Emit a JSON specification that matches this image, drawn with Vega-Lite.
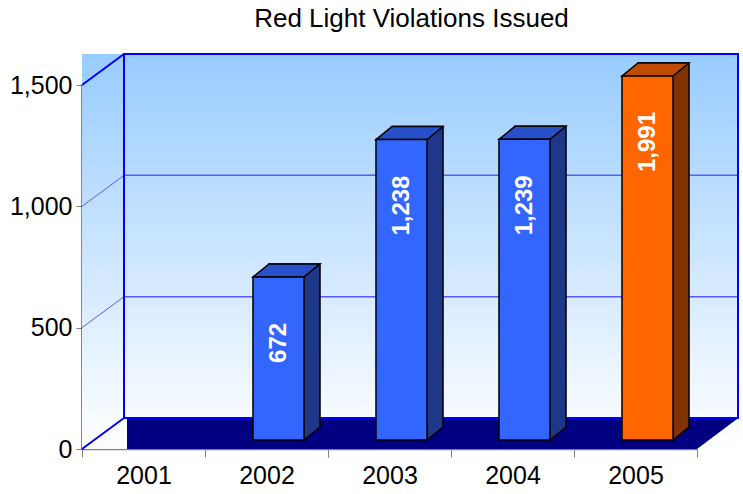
{
  "$schema": "https://vega.github.io/schema/vega-lite/v6.json",
  "width": 615,
  "height": 364,
  "autosize": {"type": "none"},
  "padding": {"left": 82, "top": 85, "right": 46, "bottom": 45},
  "background": "#ffffff",
  "config": {
    "view": {"stroke": null},
    "axis": {
      "labelFont": "Liberation Sans",
      "labelFontSize": 25,
      "labelColor": "#000000",
      "tickColor": "#808080",
      "domainColor": "#808080",
      "zindex": 1
    }
  },
  "data": {
    "values": [
      {"year": "2002", "value": 672},
      {"year": "2003", "value": 1238},
      {"year": "2004", "value": 1239},
      {"year": "2005", "value": 1991}
    ]
  },
  "resolve": {"scale": {"x": "independent"}},
  "layer": [
    {
      "data": {"values": [{}]},
      "mark": {
        "type": "rect",
        "x2Offset": 42,
        "y2Offset": -31,
        "fill": {
          "gradient": "linear",
          "x1": 0, "y1": 0, "x2": 0, "y2": 1,
          "stops": [
            {"offset": 0, "color": "#99CCFF"},
            {"offset": 1, "color": "#FFFFFF"}
          ]
        }
      },
      "encoding": {
        "x": {"datum": 0, "type": "quantitative", "scale": {"domain": [0, 1]}, "axis": null},
        "x2": {"datum": 1},
        "y": {"datum": 0, "type": "quantitative"},
        "y2": {"datum": 1500}
      }
    },
    {
      "data": {"values": [{"title": "Red Light Violations Issued"}]},
      "mark": {"type": "text", "align": "center", "baseline": "alphabetic", "font": "Liberation Sans", "fontSize": 26, "fill": "#000000", "xOffset": 22, "yOffset": -58},
      "encoding": {
        "x": {"datum": 0.5, "type": "quantitative", "scale": {"domain": [0, 1]}, "axis": null},
        "y": {"datum": 1500, "type": "quantitative"},
        "text": {"field": "title"}
      }
    },
    {
      "data": {"values": [{"v": 500}, {"v": 1000}]},
      "layer": [
        {
          "mark": {"type": "rule", "stroke": "#5A5AFF", "strokeWidth": 1, "x2Offset": 42, "y2Offset": -31},
          "encoding": {
            "x": {"datum": 0, "type": "quantitative", "scale": {"domain": [0, 1]}, "axis": null},
            "x2": {"datum": 0},
            "y": {"field": "v", "type": "quantitative"},
            "y2": {"field": "v"}
          }
        },
        {
          "mark": {"type": "rule", "stroke": "#5A5AFF", "strokeWidth": 1.5, "xOffset": 42, "x2Offset": 41, "yOffset": -31, "y2Offset": -31},
          "encoding": {
            "x": {"datum": 0, "type": "quantitative", "scale": {"domain": [0, 1]}, "axis": null},
            "x2": {"datum": 1},
            "y": {"field": "v", "type": "quantitative"},
            "y2": {"field": "v"}
          }
        }
      ]
    },
    {
      "data": {"values": [{}]},
      "mark": {"type": "rect", "fill": "#000080", "xOffset": 45, "yOffset": -31},
      "encoding": {
        "x": {"datum": 0, "type": "quantitative", "scale": {"domain": [0, 1]}, "axis": null},
        "x2": {"datum": 1},
        "y": {"datum": 0, "type": "quantitative"},
        "y2": {"datum": 0}
      }
    },
    {
      "data": {"values": [{}]},
      "mark": {
        "type": "point",
        "shape": "M-1,-0.75L1,-0.75L-1,0.75Z",
        "size": 1681,
        "filled": true,
        "fill": "#000080",
        "strokeWidth": 0,
        "opacity": 1,
        "xOffset": 20.5,
        "yOffset": -15.5
      },
      "encoding": {
        "x": {"datum": 1, "type": "quantitative", "scale": {"domain": [0, 1]}, "axis": null},
        "y": {"datum": 0, "type": "quantitative"}
      }
    },
    {
      "data": {"values": [{}]},
      "mark": {"type": "rect", "fillOpacity": 0, "stroke": "#0000FF", "strokeWidth": 2, "xOffset": 42, "x2Offset": 41, "yOffset": -31, "y2Offset": -31},
      "encoding": {
        "x": {"datum": 0, "type": "quantitative", "scale": {"domain": [0, 1]}, "axis": null},
        "x2": {"datum": 1},
        "y": {"datum": 0, "type": "quantitative"},
        "y2": {"datum": 1500}
      }
    },
    {
      "data": {"values": [{"v": 0}, {"v": 1500}]},
      "mark": {"type": "rule", "stroke": "#0000FF", "strokeWidth": 2, "x2Offset": 42, "y2Offset": -31},
      "encoding": {
        "x": {"datum": 0, "type": "quantitative", "scale": {"domain": [0, 1]}, "axis": null},
        "x2": {"datum": 0},
        "y": {"field": "v", "type": "quantitative"},
        "y2": {"field": "v"}
      }
    },
    {
      "mark": {"type": "rule", "opacity": 0},
      "encoding": {
        "x": {
          "field": "year", "type": "ordinal",
          "scale": {"domain": ["2001", "2002", "2003", "2004", "2005"], "paddingInner": 0, "paddingOuter": 0},
          "axis": {"title": null, "labelAngle": 0, "tickBand": "extent", "tickSize": 8, "labelPadding": 6, "domainWidth": 1.5}
        },
        "y": {
          "field": "value", "type": "quantitative",
          "scale": {"domain": [0, 1500], "nice": false, "clamp": true},
          "axis": {"title": null, "values": [0, 500, 1000, 1500], "labelExpr": "format(datum.value, ',')", "grid": false, "tickSize": 6, "labelPadding": 4, "domainColor": "#000080", "domainWidth": 2}
        }
      }
    },
    {
      "mark": {"type": "bar", "stroke": "#000000", "strokeWidth": 1.5, "xOffset": 28, "x2Offset": 28, "yOffset": -22, "y2Offset": -22},
      "encoding": {
        "x": {"field": "year", "type": "ordinal", "scale": {"domain": ["2001", "2002", "2003", "2004", "2005"], "paddingInner": 0.585, "paddingOuter": 0.2925}, "axis": null},
        "y": {"field": "value", "type": "quantitative"},
        "color": {"condition": {"test": "datum.year === '2005'", "value": "#803300"}, "value": "#1F3787"}
      }
    },
    {
      "mark": {
        "type": "point",
        "shape": "M0.85,-0.28L0.83,-0.26L0.51,0L0.51,-0.28",
        "size": 10000,
        "filled": true,
        "opacity": 1,
        "stroke": "#000000",
        "strokeWidth": 1.5,
        "xOffset": 12,
        "yOffset": -9
      },
      "encoding": {
        "x": {"field": "year", "type": "ordinal", "scale": {"domain": ["2001", "2002", "2003", "2004", "2005"], "paddingInner": 0.585, "paddingOuter": 0.2925}, "axis": null},
        "y": {"datum": 0, "type": "quantitative"},
        "fill": {"condition": {"test": "datum.year === '2005'", "value": "#803300"}, "value": "#1F3787"}
      }
    },
    {
      "mark": {
        "type": "point",
        "shape": "M-0.51,0L0.51,0L0.83,-0.26L-0.19,-0.26Z",
        "size": 10000,
        "filled": true,
        "opacity": 1,
        "stroke": "#000000",
        "strokeWidth": 1.5,
        "xOffset": 12,
        "yOffset": -9
      },
      "encoding": {
        "x": {"field": "year", "type": "ordinal", "scale": {"domain": ["2001", "2002", "2003", "2004", "2005"], "paddingInner": 0.585, "paddingOuter": 0.2925}, "axis": null},
        "y": {"field": "value", "type": "quantitative"},
        "fill": {"condition": {"test": "datum.year === '2005'", "value": "#C04C00"}, "value": "#2850C8"}
      }
    },
    {
      "mark": {"type": "bar", "stroke": "#000000", "strokeWidth": 1.5, "xOffset": 12, "x2Offset": 12, "yOffset": -9, "y2Offset": -9},
      "encoding": {
        "x": {"field": "year", "type": "ordinal", "scale": {"domain": ["2001", "2002", "2003", "2004", "2005"], "paddingInner": 0.585, "paddingOuter": 0.2925}, "axis": null},
        "y": {"field": "value", "type": "quantitative"},
        "color": {"condition": {"test": "datum.year === '2005'", "value": "#FF6600"}, "value": "#3366FF"}
      }
    },
    {
      "mark": {"type": "text", "angle": 270, "align": "center", "baseline": "middle", "font": "Liberation Sans", "fontSize": 24, "fontWeight": "bold", "fill": "#FFFFFF", "xOffset": 12, "yOffset": 57},
      "encoding": {
        "x": {"field": "year", "type": "ordinal", "scale": {"domain": ["2001", "2002", "2003", "2004", "2005"], "paddingInner": 0.585, "paddingOuter": 0.2925}, "axis": null},
        "y": {"field": "value", "type": "quantitative"},
        "text": {"field": "value", "type": "quantitative", "format": ","}
      }
    }
  ]
}
